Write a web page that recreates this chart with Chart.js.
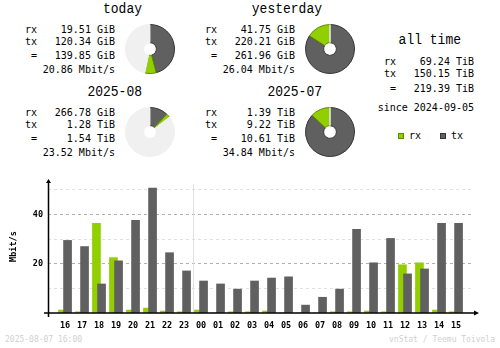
<!DOCTYPE html>
<html>
<head>
<meta charset="utf-8">
<script src="https://cdn.jsdelivr.net/npm/chart.js@4.4.1/dist/chart.umd.min.js"></script>
<style>
  html, body { margin: 0; padding: 0; background: #fff; }
  #wrap { position: relative; width: 500px; height: 348px; overflow: hidden; font-family: "DejaVu Sans Mono", monospace; color: #000; }
  .txt { position: absolute; white-space: pre; }
  .pie { position: absolute; }
  .key { position: absolute; width: 6px; height: 6px; box-sizing: border-box; border: 1px solid; }
  #bars { position: absolute; left: 0; top: 170px; }
</style>
</head>
<body>
<div id="wrap">
  <canvas id="bars" width="500" height="165"></canvas>
</div>
<script>
// hourly traffic, Mbit/s
const hours = ['16', '17', '18', '19', '20', '21', '22', '23', '00', '01', '02', '03',
               '04', '05', '06', '07', '08', '09', '10', '11', '12', '13', '14', '15'];
const rxRate = [1.2, 0.5, 36.4, 22.5, 1.2, 2.0, 0.8, 0.5, 1.2, 0.0, 0.5, 0.5,
                0.8, 0.0, 0.0, 0.0, 0.5, 0.5, 0.8, 0.5, 19.6, 20.4, 1.2, 0.5];
const txRate = [29.5, 27.0, 11.8, 21.2, 37.7, 50.8, 24.5, 17.1, 13.0, 11.8, 9.7, 13.0,
                14.2, 14.7, 3.2, 6.4, 9.7, 34.0, 20.4, 30.3, 15.9, 17.9, 36.4, 36.4];
const yTicks = [20, 40];

// summary blocks (GiB)
const periods = ['today', 'yesterday', '2025-08', '2025-07'];
const periodRx = [19.51, 41.75, 266.78, 1423.36];
const periodTx = [120.34, 220.21, 1310.72, 9441.28];
const periodRate = [20.86, 26.04, 23.52, 34.84];
const allTime = [70901.76, 153753.6];
const since = '2024-09-05';
const stamp = '2025-08-07 16:00';
const credit = 'vnStat / Teemu Toivola';

const RX = '#92cf00', RX_DARK = '#5f8a00';
const TX = '#606060', TX_DARK = '#353535';
const PIE_BG = '#f0f0f0';
const FONT = '"DejaVu Sans Mono", monospace';

Chart.defaults.font.family = FONT;

const wrap = document.getElementById('wrap');

function fmt(gib) {
    return gib >= 1024 ? (gib / 1024).toFixed(2) + ' TiB' : gib.toFixed(2) + ' GiB';
}

// place text by its baseline
function put(str, x, base, size, align, extra) {
    const d = document.createElement('div');
    d.className = 'txt';
    d.textContent = str;
    d.style.fontSize = size + 'px';
    d.style.lineHeight = size + 'px';
    d.style.top = (base - 0.846 * size) + 'px';
    if (align === 'right') d.style.right = (500 - x) + 'px';
    else d.style.left = x + 'px';
    if (extra) Object.assign(d.style, extra);
    wrap.appendChild(d);
    return d;
}

function pie(cx, cy, tx, rx, max) {
    const c = document.createElement('canvas');
    c.className = 'pie';
    c.width = 50;
    c.height = 50;
    c.style.left = (cx - 25) + 'px';
    c.style.top = (cy - 25) + 'px';
    wrap.appendChild(c);
    new Chart(c, {
        type: 'doughnut',
        data: {
            labels: ['tx', 'rx', ''],
            datasets: [{
                data: [tx, rx, Math.max(max - tx - rx, 0)],
                backgroundColor: [TX, RX, PIE_BG],
                borderColor: [TX_DARK, RX_DARK, PIE_BG],
                borderWidth: 1,
            }],
        },
        options: {
            responsive: false,
            animation: false,
            events: [],
            cutout: '26%',
            plugins: { legend: { display: false }, tooltip: { enabled: false } },
        },
    });
}

const totals = periods.map((p, i) => periodRx[i] + periodTx[i]);
const dayMax = Math.max(totals[0], totals[1]);
const monthMax = Math.max(totals[2], totals[3]);

const titleStyle = { fontFamily: '"Liberation Mono", monospace', transform: 'scaleY(1.12)', transformOrigin: '0 100%' };

periods.forEach((name, i) => {
    const dx = (i % 2) * 180;
    const dy = Math.floor(i / 2) * 83;
    put(name, 142 + dx, 14 + dy, 13, 'right', titleStyle);
    [['rx', periodRx[i]], ['tx', periodTx[i]], [' =', totals[i]]].forEach(([lab, v], r) => {
        const base = [33, 45, 59][r] + dy;
        put(lab, 25 + dx, base, 10);
        put(fmt(v), 115 + dx, base, 10, 'right');
    });
    put(periodRate[i].toFixed(2) + ' Mbit/s', 115 + dx, 73 + dy, 10, 'right');
    pie(150 + dx, 49 + dy, periodTx[i], periodRx[i], i < 2 ? dayMax : monthMax);
});

// all time
put('all time', 461, 45, 13, 'right', titleStyle);
[['rx', allTime[0]], ['tx', allTime[1]], [' =', allTime[0] + allTime[1]]].forEach(([lab, v], r) => {
    const base = [65, 77, 92][r];
    put(lab, 384, base, 10);
    put(fmt(v), 474, base, 10, 'right');
});
put('since ' + since, 474, 111, 10, 'right');

[['rx', RX, RX_DARK, 398], ['tx', TX, TX_DARK, 440]].forEach(([lab, fill, edge, x]) => {
    const k = document.createElement('div');
    k.className = 'key';
    k.style.left = x + 'px';
    k.style.top = '133px';
    k.style.background = fill;
    k.style.borderColor = edge;
    wrap.appendChild(k);
    put(lab, x + 11, 139, 10);
});

put(stamp, 5, 343, 8, 'left', { color: '#d0d0d0' });
put(credit, 495, 343, 8, 'right', { color: '#d0d0d0' });

// axis lines with arrows and the day boundary
const axes = {
    id: 'axes',
    beforeDatasetsDraw(chart) {
        const { ctx, chartArea: a, scales } = chart;
        const i = hours.indexOf('00');
        if (i < 1) return;
        const x = Math.round(scales.x.getPixelForValue(i - 0.5)) + 0.5;
        ctx.save();
        ctx.strokeStyle = '#e0e0e0';
        ctx.lineWidth = 1;
        ctx.beginPath();
        ctx.moveTo(x, a.top + 4);
        ctx.lineTo(x, a.bottom);
        ctx.stroke();
        ctx.restore();
    },
    afterDatasetsDraw(chart) {
        const { ctx, chartArea: a } = chart;
        const x0 = a.left + 0.5;
        const y0 = a.bottom;
        ctx.save();
        ctx.strokeStyle = '#000';
        ctx.fillStyle = '#000';
        ctx.lineWidth = 1.5;
        ctx.beginPath();
        ctx.moveTo(x0, y0 + 4);
        ctx.lineTo(x0, a.top + 1);
        ctx.moveTo(a.left - 4, y0);
        ctx.lineTo(a.right + 4, y0);
        ctx.stroke();
        ctx.beginPath();
        ctx.moveTo(x0, a.top - 1);
        ctx.lineTo(x0 - 2.5, a.top + 3);
        ctx.lineTo(x0 + 2.5, a.top + 3);
        ctx.closePath();
        ctx.moveTo(a.right + 6, y0);
        ctx.lineTo(a.right + 1, y0 - 2.5);
        ctx.lineTo(a.right + 1, y0 + 2.5);
        ctx.closePath();
        ctx.fill();
        ctx.restore();
    },
};

const tickFont = { family: FONT, size: 8.5, weight: 'bold' };

new Chart(document.getElementById('bars'), {
    type: 'bar',
    data: {
        datasets: [
            { label: 'tx', data: hours.map((h, i) => ({ x: i + 0.15, y: txRate[i] })), backgroundColor: TX, order: 1 },
            { label: 'rx', data: hours.map((h, i) => ({ x: i - 0.15, y: rxRate[i] })), backgroundColor: RX, order: 2 },
        ],
    },
    options: {
        responsive: false,
        animation: false,
        events: [],
        layout: { padding: { top: 10, right: 27, bottom: 0, left: 0 } },
        datasets: { bar: { barThickness: 8, grouped: false, borderWidth: 0 } },
        plugins: { legend: { display: false }, tooltip: { enabled: false } },
        scales: {
            x: {
                type: 'linear',
                min: -1,
                max: hours.length,
                offset: false,
                grid: { display: false },
                border: { display: false },
                ticks: {
                    stepSize: 1,
                    autoSkip: false,
                    maxRotation: 0,
                    padding: 0,
                    color: '#000',
                    font: tickFont,
                    callback: (v) => (Number.isInteger(v) && v >= 0 && v < hours.length ? hours[v] : ''),
                },
                afterFit: (s) => { s.height = 22; },
            },
            y: {
                min: 0,
                max: 54,
                grid: {
                    drawTicks: false,
                    lineWidth: 1,
                    color: (c) => (c.tick.value === 0 ? 'rgba(0,0,0,0)' : yTicks.includes(c.tick.value) ? '#b0b0b0' : '#e0e0e0'),
                },
                border: { display: false, dash: [3, 3] },
                ticks: {
                    stepSize: 10,
                    includeBounds: false,
                    padding: 5,
                    color: '#000',
                    font: tickFont,
                    callback: (v) => (yTicks.includes(v) ? v : ''),
                },
                title: { display: true, text: 'Mbit/s', color: '#000', font: tickFont, padding: { top: 9, bottom: 0 } },
                afterFit: (s) => { s.width = 48; },
            },
        },
    },
    plugins: [axes],
});
</script>
</body>
</html>
